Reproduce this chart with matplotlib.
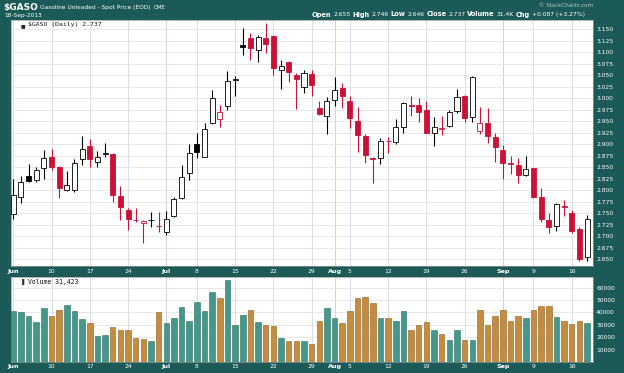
import numpy as np
import pandas as pd
import matplotlib
matplotlib.use("Agg")
import matplotlib.pyplot as plt

plt.rcParams['font.family'] = 'DejaVu Sans'

# trading days, Jun 3 - Sep 18 2013 (closed Jul 4 and Sep 2)
dates = pd.bdate_range("2013-06-03", "2013-09-18")
dates = dates[~dates.isin(pd.to_datetime(["2013-07-04", "2013-09-02"]))]

opens = [2.748, 2.786, 2.831, 2.822, 2.848, 2.872, 2.851, 2.801, 2.801, 2.867,
         2.896, 2.862, 2.879, 2.879, 2.788, 2.757, 2.736, 2.728, 2.735, 2.723,
         2.710, 2.743, 2.784, 2.837, 2.901, 2.873, 2.947, 2.954, 2.983, 3.040,
         3.115, 3.130, 3.104, 3.130, 3.136, 3.062, 3.078, 3.051, 3.025, 3.053,
         2.978, 2.962, 2.996, 3.023, 2.994, 2.951, 2.918, 2.871, 2.870, 2.907,
         2.904, 2.938, 2.985, 2.986, 2.975, 2.925, 2.933, 2.940, 2.972, 3.005,
         2.959, 2.929, 2.946, 2.915, 2.888, 2.860, 2.855, 2.833, 2.848, 2.785,
         2.736, 2.722, 2.765, 2.751, 2.715, 2.655]
highs = [2.824, 2.830, 2.857, 2.851, 2.888, 2.889, 2.853, 2.841, 2.867, 2.918,
         2.911, 2.886, 2.902, 2.880, 2.810, 2.761, 2.761, 2.736, 2.753, 2.753,
         2.755, 2.786, 2.854, 2.901, 2.924, 2.946, 3.018, 2.986, 3.060, 3.048,
         3.152, 3.141, 3.138, 3.164, 3.138, 3.083, 3.081, 3.054, 3.062, 3.062,
         2.993, 3.002, 3.046, 3.034, 3.004, 2.982, 2.922, 2.873, 2.913, 2.915,
         2.954, 2.991, 3.005, 3.000, 2.993, 2.959, 2.962, 2.975, 3.020, 3.007,
         3.049, 2.980, 2.978, 2.924, 2.899, 2.875, 2.870, 2.875, 2.849, 2.804,
         2.751, 2.772, 2.778, 2.757, 2.720, 2.746]
lows = [2.737, 2.773, 2.817, 2.819, 2.824, 2.844, 2.784, 2.799, 2.797, 2.855,
        2.851, 2.850, 2.873, 2.774, 2.735, 2.714, 2.731, 2.686, 2.720, 2.710,
        2.703, 2.741, 2.781, 2.822, 2.870, 2.872, 2.944, 2.938, 2.975, 3.004,
        3.094, 3.083, 3.078, 3.098, 3.051, 3.020, 3.035, 2.977, 3.012, 3.005,
        2.964, 2.922, 2.983, 2.978, 2.936, 2.884, 2.860, 2.815, 2.857, 2.880,
        2.901, 2.924, 2.961, 2.949, 2.924, 2.896, 2.920, 2.937, 2.967, 2.949,
        2.949, 2.923, 2.902, 2.862, 2.824, 2.835, 2.815, 2.830, 2.783, 2.732,
        2.708, 2.712, 2.743, 2.708, 2.647, 2.646]
closes = [2.790, 2.817, 2.820, 2.844, 2.870, 2.851, 2.804, 2.812, 2.859, 2.889,
          2.867, 2.872, 2.881, 2.790, 2.763, 2.738, 2.735, 2.734, 2.736, 2.722,
          2.738, 2.781, 2.828, 2.880, 2.883, 2.933, 3.001, 2.969, 3.038, 3.041,
          3.112, 3.109, 3.134, 3.117, 3.065, 3.069, 3.056, 3.041, 3.054, 3.028,
          2.965, 2.994, 3.017, 3.005, 2.958, 2.920, 2.877, 2.869, 2.908, 2.906,
          2.938, 2.989, 2.984, 2.971, 2.925, 2.938, 2.936, 2.970, 3.002, 2.957,
          3.047, 2.946, 2.917, 2.893, 2.859, 2.858, 2.833, 2.846, 2.786, 2.737,
          2.720, 2.770, 2.764, 2.712, 2.650, 2.737]
volumes = [41300, 40000, 37300, 32200, 43500, 37300, 41600, 46100, 41300, 34600,
           31400, 21300, 21800, 28000, 25500, 26100, 19700, 18600, 16700, 40500,
           31400, 35400, 44000, 32800, 48800, 40800, 56800, 52000, 66200, 29600,
           37600, 41600, 32200, 30100, 29300, 19400, 16700, 17300, 17300, 14600,
           32800, 43500, 35400, 31400, 40800, 51500, 52800, 48000, 35400, 35200,
           32800, 41300, 25500, 30100, 32200, 25500, 22600, 18100, 25500, 18100,
           17500, 42100, 29600, 37300, 42100, 32800, 36800, 35200, 41600, 45300,
           45300, 36500, 32800, 30900, 32800, 31423]

tick_dates = ["2013-06-03", "2013-06-10", "2013-06-17", "2013-06-24", "2013-07-01",
              "2013-07-08", "2013-07-15", "2013-07-22", "2013-07-29", "2013-08-01",
              "2013-08-05", "2013-08-12", "2013-08-19", "2013-08-26", "2013-09-03",
              "2013-09-09", "2013-09-16"]
tick_labels = ["Jun", "10", "17", "24", "Jul", "8", "15", "22", "29", "Aug",
               "5", "12", "19", "26", "Sep", "9", "16"]
month_labels = ["Jun", "Jul", "Aug", "Sep"]
price_ticks = [2.650, 2.675, 2.700, 2.725, 2.750, 2.775, 2.800, 2.825, 2.850,
               2.875, 2.900, 2.925, 2.950, 2.975, 3.000, 3.025, 3.050, 3.075,
               3.100, 3.125, 3.150]
vol_ticks = [10000, 20000, 30000, 40000, 50000, 60000]

W, H = 624, 373
bg = '#1b5a57'
red = '#cc1136'
teal = '#45978a'
orange = '#c68c3e'
grid_c = '#d6d6e4'
month_c = '#b0b0c6'

o = np.array(opens)
h = np.array(highs)
l = np.array(lows)
c = np.array(closes)
v = np.array(volumes)
x = np.arange(len(dates))
prev = np.r_[c[0], c[:-1]]
up = c >= prev
hollow = c > o
line_col = np.where(up, 'black', red)
face_col = np.where(hollow, 'white', line_col)

ticks = dates.get_indexer(pd.to_datetime(tick_dates))


def px_axes(fig, left, top, right, bottom):
    return fig.add_axes([left / W, 1 - bottom / H, (right - left) / W, (bottom - top) / H])


fig = plt.figure(figsize=(W / 100, H / 100), dpi=100, facecolor=bg)
ax = px_axes(fig, 11, 20, 592.7, 266)
ax2 = px_axes(fig, 11, 277, 592.7, 362)

xlim = (-0.3, 75.74)
for a in (ax, ax2):
    a.set_facecolor('white')
    a.set_xlim(*xlim)
    a.set_xticks(ticks)
    a.set_xticklabels(tick_labels)
    a.grid(True, axis='x', color=grid_c, lw=0.6, zorder=0)
    a.grid(True, axis='y', color='#e4e4e4', lw=0.6, zorder=0)
    a.set_axisbelow(True)
    a.yaxis.tick_right()
    a.tick_params(axis='both', length=0, labelcolor='white', labelsize=4.3)
    a.tick_params(axis='y', pad=2.5)
    for s in a.spines.values():
        s.set_color('#9a9a9a')
        s.set_linewidth(0.5)
    for t in a.get_xticklabels():
        if t.get_text() in month_labels:
            t.set_fontweight('bold')
            t.set_fontsize(4.6)
    for i, lab in zip(ticks, tick_labels):
        if lab in month_labels and i > 0:
            a.axvline(i, color=month_c, lw=0.6, zorder=0.5)

ax.tick_params(axis='x', pad=2.2)
ax2.tick_params(axis='x', pad=1.2)

# candles
ax.vlines(x, l, h, colors=line_col, lw=0.8, zorder=2)
body_h = np.maximum(np.abs(c - o), 0.0012)
ax.bar(x, body_h, bottom=np.minimum(o, c), width=0.66, color=face_col,
       edgecolor=line_col, linewidth=0.6, zorder=3)
ax.set_ylim(2.6354, 3.170)
ax.set_yticks(price_ticks)
ax.set_yticklabels([f"{p:.3f}" for p in price_ticks])

# volume
vol_col = np.where(up, teal, orange)
edge_col = np.where(up, '#2e6f64', '#8e6024')
ax2.bar(x, v, width=0.72, color=vol_col, edgecolor=edge_col, linewidth=0.4, zorder=3)
ax2.set_ylim(0, 68600)
ax2.set_yticks(vol_ticks)
ax2.set_yticklabels([str(t) for t in vol_ticks])

# panel labels
ax.text(0.016, 0.988, "\u25a0", transform=ax.transAxes, fontsize=3.5, va='top', color='#222222')
ax.text(0.03, 0.992, "$GASO (Daily) 2.737", transform=ax.transAxes, va='top',
        fontsize=4.6, family='DejaVu Sans Mono', color='#111111')
ax2.text(0.016, 0.975, "\u2590", transform=ax2.transAxes, fontsize=4, va='top', color='#333333')
ax2.text(0.03, 0.98, "Volume 31,423", transform=ax2.transAxes, va='top',
         fontsize=4.7, family='DejaVu Sans Mono', color='#111111')

# header
renderer = fig.canvas.get_renderer()


def runs(x0, y0, parts, gap=2.0):
    xp = x0
    for s, weight, size in parts:
        t = fig.text(xp / W, 1 - y0 / H, s, color='white', fontsize=size,
                     fontweight=weight, va='center', ha='left')
        bb = t.get_window_extent(renderer)
        xp = bb.x1 + gap


runs(3, 7.5, [("$GASO", 'bold', 6.5), ("Gasoline Unleaded - Spot Price (EOD)", 'normal', 4.2),
              ("CME", 'normal', 4.0)], gap=2.5)
fig.text(4 / W, 1 - 15 / H, "18-Sep-2013", color='white', fontsize=4.2, va='center')
runs(312, 14.5, [("Open", 'bold', 4.8), ("2.655", 'normal', 4.3),
                 ("High", 'bold', 4.8), ("2.746", 'normal', 4.3),
                 ("Low", 'bold', 4.8), ("2.646", 'normal', 4.3),
                 ("Close", 'bold', 4.8), ("2.737", 'normal', 4.3),
                 ("Volume", 'bold', 4.8), ("31.4K", 'normal', 4.3),
                 ("Chg", 'bold', 4.8), ("+0.087 (+3.27%)", 'normal', 4.3)], gap=1.9)
fig.text(593 / W, 1 - 5.5 / H, "\u00a9 StockCharts.com", color='#b8cfcc', fontsize=4.0,
         ha='right', va='center')

fig.savefig("out.png", dpi=100, facecolor=bg)
